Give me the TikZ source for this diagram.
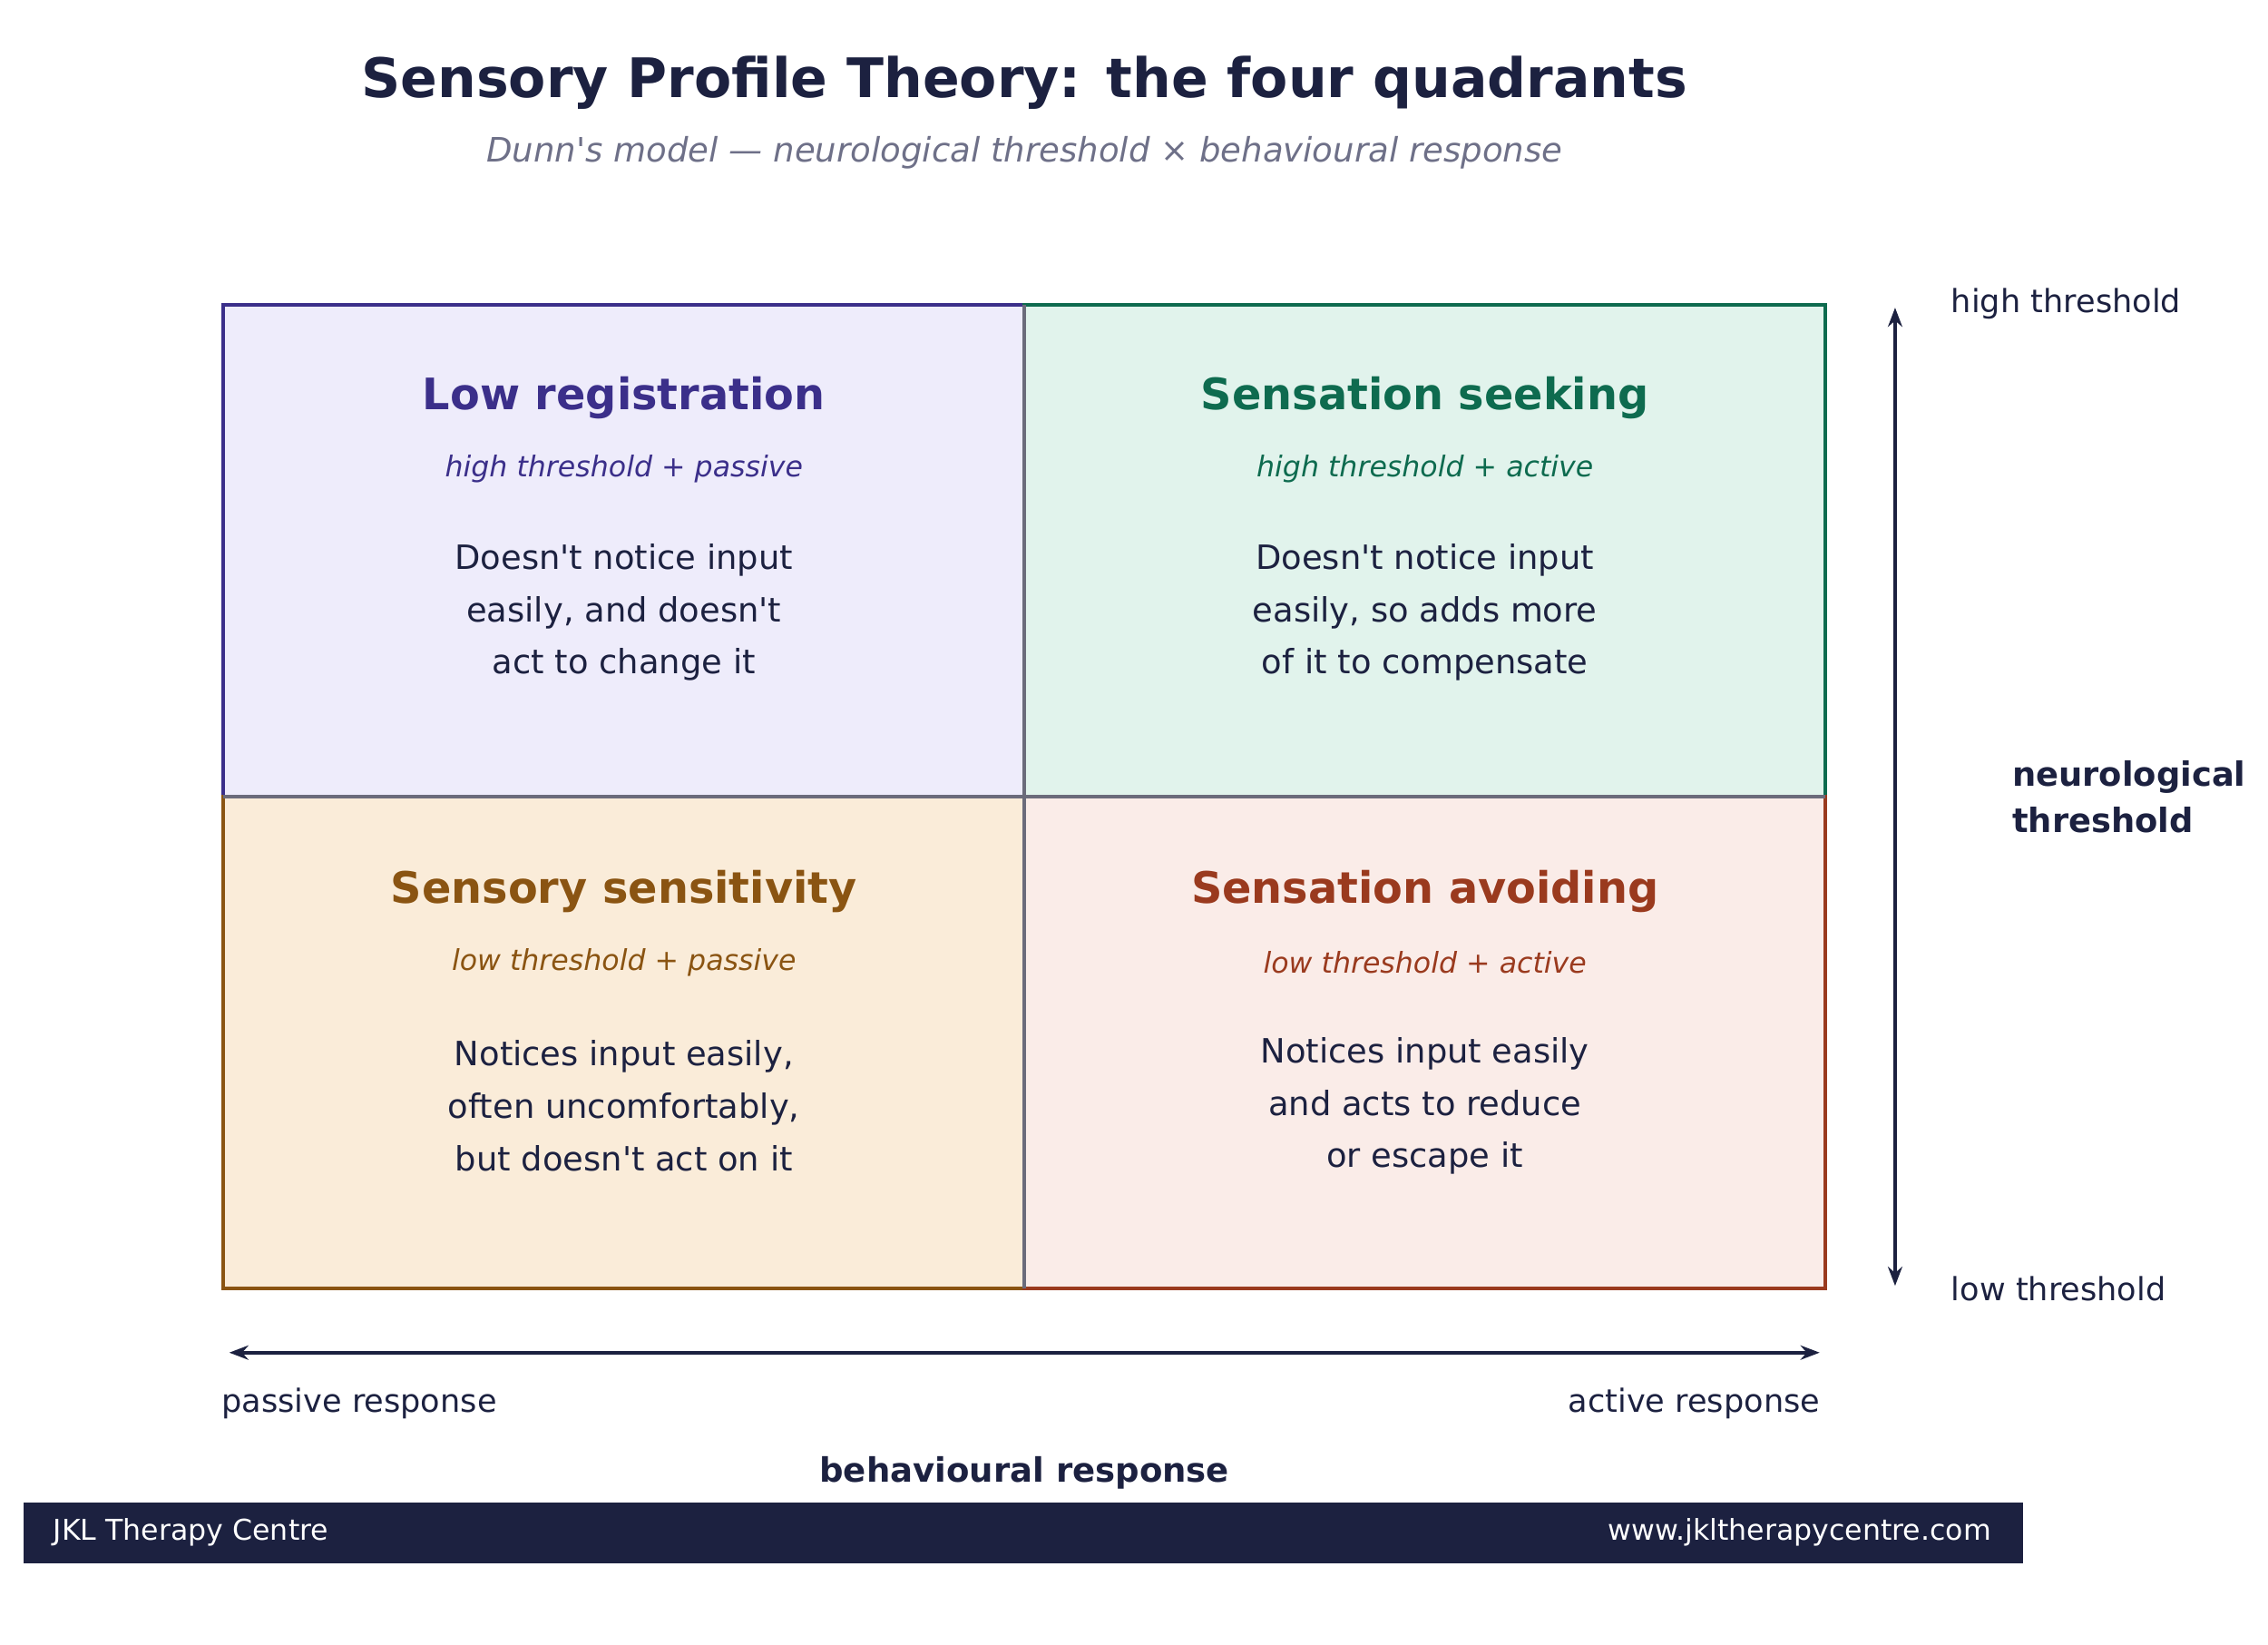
\documentclass[tikz,border=0pt]{standalone}
\usepackage{fontspec}
\setmainfont{DejaVu Sans}
\usetikzlibrary{positioning}
\usetikzlibrary{arrows.meta}
\definecolor{navy}{HTML}{1C2140}
\definecolor{subgray}{HTML}{6E7088}
\definecolor{lowreg}{HTML}{3B2F8A}\definecolor{lowregbg}{HTML}{EEECFB}
\definecolor{seek}{HTML}{0E6B4F}\definecolor{seekbg}{HTML}{E1F3EC}
\definecolor{sens}{HTML}{8A5412}\definecolor{sensbg}{HTML}{FAECD9}
\definecolor{avoid}{HTML}{9A3A1E}\definecolor{avoidbg}{HTML}{FAECE8}
\definecolor{midline}{HTML}{6B6B7B}
\newcommand{\apos}{\textquotesingle}
\tikzset{
  qtitle/.style={font=\fontsize{13.6}{16}\selectfont\bfseries},
  qsub/.style={font=\fontsize{9}{11}\selectfont\itshape},
  qbody/.style={font=\fontsize{10.5}{16.4}\selectfont, text=navy, align=center},
  axlabel/.style={font=\fontsize{10}{12}\selectfont, text=navy},
  axarrow/.style={navy, line width=1.2pt, {Stealth[length=6pt]}-{Stealth[length=6pt]}}
}
\begin{document}
\begin{tikzpicture}[x=0.016cm, y=-0.016cm]
  \useasboundingbox (0,0) rectangle (1563,1133);
  % title
  \node[font=\fontsize{17.1}{20}\selectfont\bfseries, text=navy] (title) at (706,57) {Sensory Profile Theory: the four quadrants};
  \node[font=\fontsize{10.55}{12}\selectfont\itshape, text=subgray] (subtitle) at (706,105) {Dunn\apos s model — neurological threshold × behavioural response};
  % quadrants
  \draw[lowreg, fill=lowregbg, line width=1.2pt] (154,210) rectangle (706,549);
  \draw[seek, fill=seekbg, line width=1.2pt] (706,210) rectangle (1258,549);
  \draw[sens, fill=sensbg, line width=1.2pt] (154,549) rectangle (706,888);
  \draw[avoid, fill=avoidbg, line width=1.2pt] (706,549) rectangle (1258,888);
  \draw[midline, line width=1.2pt] (706,210) -- (706,888);
  \draw[midline, line width=1.2pt] (154,549) -- (1258,549);
  % quadrant texts
  \foreach \name/\cx/\cy/\col/\ttl/\sub/\body in {
    lr/430/0/lowreg/Low registration/high threshold + passive/{Doesn\apos t notice input\\easily, and doesn\apos t\\act to change it},
    ss/982/0/seek/Sensation seeking/high threshold + active/{Doesn\apos t notice input\\easily, so adds more\\of it to compensate},
    sy/430/340/sens/Sensory sensitivity/low threshold + passive/{Notices input easily,\\often uncomfortably,\\but doesn\apos t act on it},
    sa/982/340/avoid/Sensation avoiding/low threshold + active/{Notices input easily\\and acts to reduce\\or escape it}} {
    \node[qtitle, text=\col] (\name-title) at (\cx,274+\cy) {\ttl};
    \node[qsub, text=\col] (\name-sub) at (\cx,323+\cy) {\sub};
    \node[qbody] (\name-body) at (\cx,422+\cy) {\body};
  }
  % vertical axis
  \coordinate (vtop) at (1306,212);
  \coordinate (vbot) at (1306,886);
  \draw[axarrow] (vtop) -- (vbot);
  \node[axlabel, anchor=west] (hith) at (1337,209) {high threshold};
  \node[axlabel, anchor=west] (loth) at (1337,888) {low threshold};
  \node[axlabel, anchor=west, font=\fontsize{10.5}{14.5}\selectfont\bfseries, align=left] (neuro) at (1379,549) {neurological\\threshold};
  % horizontal axis
  \coordinate (hleft) at (158,932);
  \coordinate (hright) at (1254,932);
  \draw[axarrow] (hleft) -- (hright);
  \node[axlabel, anchor=west] (passive) at (145,967) {passive response};
  \node[axlabel, anchor=east] (active) at (1262,967) {active response};
  \node[axlabel, font=\fontsize{10.55}{12}\selectfont\bfseries] (behav) at (706,1015) {behavioural response};
  % footer
  \fill[navy] (16,1035) rectangle (1394,1077);
  \node[anchor=west, text=white, font=\fontsize{9}{10}\selectfont] (centre) at (29,1056) {JKL Therapy Centre};
  \node[anchor=east, text=white, font=\fontsize{9}{10}\selectfont] (web) at (1380,1056) {www.jkltherapycentre.com};
\end{tikzpicture}
\end{document}
